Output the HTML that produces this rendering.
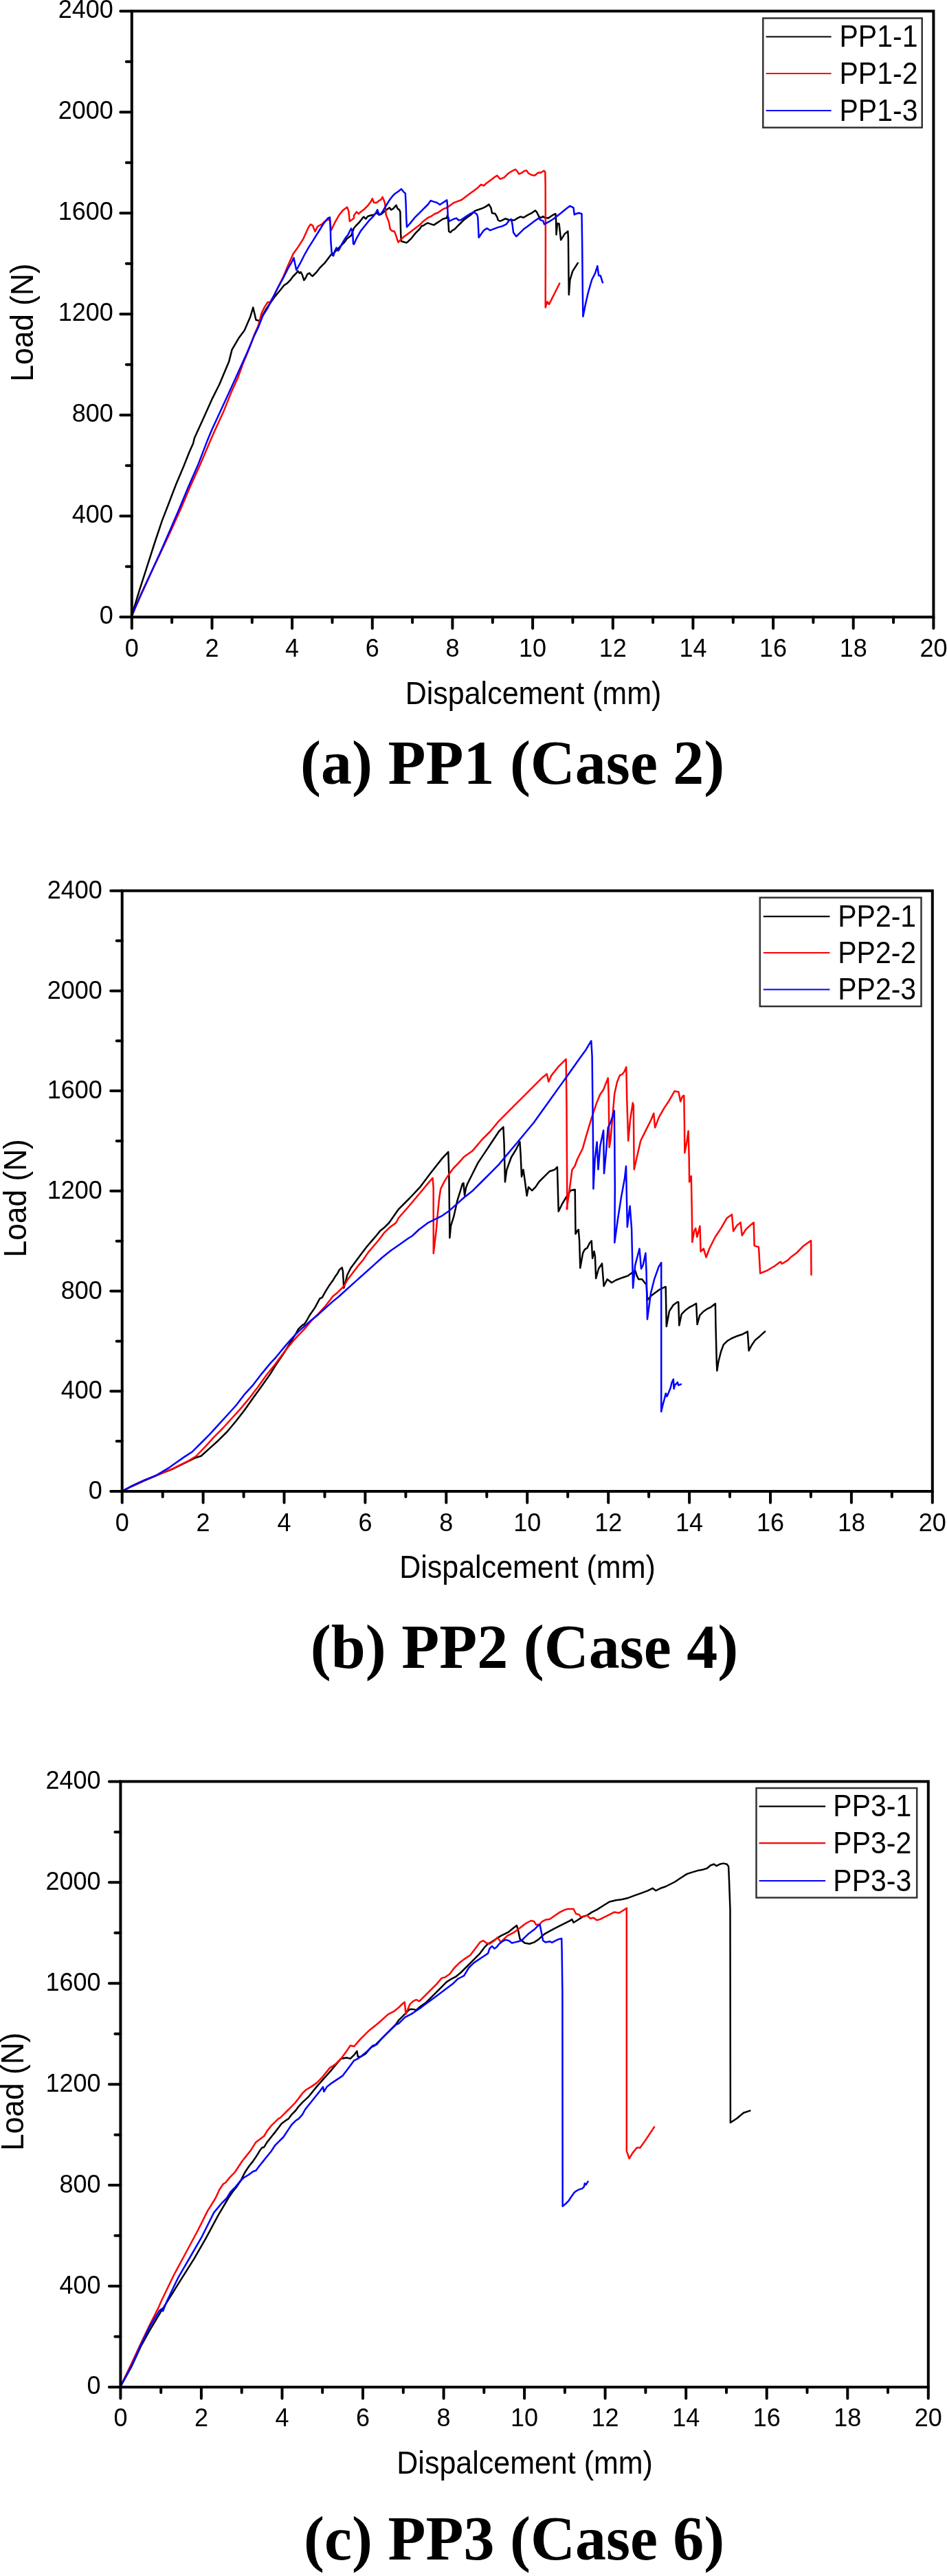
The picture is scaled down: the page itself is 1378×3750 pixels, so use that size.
<!DOCTYPE html>
<html><head><meta charset="utf-8"><title>Load-displacement curves</title>
<style>html,body{margin:0;padding:0;background:#fff}svg{display:block;will-change:transform}</style></head>
<body><svg width="1378" height="3750" viewBox="0 0 1378 3750">
<rect width="1378" height="3750" fill="#fff"/>
<g fill="none" stroke-width="2.5" stroke-linejoin="round" stroke-linecap="round">
<polyline stroke="#000000" points="191.9,895.3 202.8,859.6 213.8,825.3 224.8,791 235.8,758.1 245.4,733.3 256.4,704.5 267.4,678.4 275.6,657.8 281.1,645.5 282.9,637.8 296.9,607 308.1,581.9 319.3,559.5 333.3,525.9 337.5,509.1 347.3,492.3 355.7,481.1 364.1,461.6 368.3,447.6 372.5,465.8 378.1,467.2 380.9,461.1 386.8,450.8 392.7,441.9 400.1,431.6 407.5,422.7 413.4,415.3 417.9,412.4 422.3,407.9 426.7,402 431.2,397.6 433.4,394.6 435.6,397.6 437.8,396.1 440,400.5 442.3,407.9 444.5,405 447.4,399 450.4,397.6 452.6,400.5 454.8,402 457.8,399 460.7,396.1 465.2,390.2 469.6,385.7 472.6,382.8 477,376.9 481.4,371 485.9,368 490.3,363.6 494.7,359.1 500.7,353.2 505.1,347.3 511,342.9 515,332 518.9,327.6 523.3,323.1 527.7,317.2 529.2,315.7 532.2,318.7 535.1,315 539.6,313.5 544,312.8 548.4,309.8 551.4,312.8 554.4,312 558.8,308.4 563.2,304.7 566.9,302.4 569.1,305.4 572.1,303.9 576.5,298.7 578.7,303.9 581,305.4 582.4,308.4 583.2,340.9 583.9,351.2 586.9,352 591.3,353.4 594.3,351.2 598.7,346.8 604.6,339.4 610.5,333.5 613.5,329 616.4,328.3 619.4,326.1 622.4,324.6 626.8,326.1 631.2,327.6 635.7,324.6 640.1,321.7 644.5,318.7 650,317.2 650.9,313.9 651.7,314.6 652.4,323.5 653.1,336.8 655.3,338.3 658.3,335.3 661.3,333.8 665.7,329.4 670.1,325 674.6,320.5 680.5,316.1 686.4,311.7 690.8,307.2 696.7,305 702.7,302.8 707.1,300.6 711.5,297.6 714.5,302.8 716,310.2 720.4,310.9 723.4,316.1 724.8,320.5 727.8,322 732.2,319.8 735.2,318.3 739.6,319.8 744,320.5 748.5,320.5 752.9,317.6 757.4,315.4 761.8,316.8 767.7,313.1 773.6,310.2 778.8,306.5 781,308.7 784,314.6 785,317.6 785.7,316.3 787.6,316.9 790.1,315 792.7,316.9 797.7,317.6 801.5,315 805.3,312.5 808.5,311.2 809.1,321.4 809.5,341.6 811,325.2 813.6,325.8 816.1,349.3 821.8,340.4 826.3,336.6 826.9,346.7 827.4,397.4 827.8,429.1 829.4,407.5 833.2,394.9 840.8,382.8"/>
<polyline stroke="#ff0000" points="191.9,897 205,865 219,835 233.5,805 248.5,773 262.5,742 276.5,709 291,677 306.3,641 313.7,624.3 325.1,599.6 336.5,571.1 346,550.2 353.6,529.3 363.1,506.4 370.7,485.5 375.5,475.1 380.9,455.2 385.3,446.4 389.8,439.7 392.7,440.4 398.7,430.1 404.6,418.3 412,403.5 419.4,385.7 426.7,369.5 434.1,359.1 441.5,347.3 448.9,331 451.9,326.6 454.8,328.1 458.5,337 462.2,329.6 465.2,328.1 468.1,326.6 472.6,322.2 475.5,320.7 478.5,319.2 480.3,322.2 481.7,335.5 487.4,323.7 493.3,313.3 499.2,305.9 505.1,301.5 507.3,307.4 508.8,322.2 515,317.7 515,313.5 518.9,308.4 521.8,311.3 524.8,308.4 530.7,303.9 535.1,299.5 539.6,293.6 541.8,289.1 544,295 548.4,295 551.4,292.1 554.4,290.6 556.6,286.9 558.8,292.1 560.3,296.5 561.7,312.8 564.7,320.2 566.2,324.6 567.7,333.5 570.6,336.4 573.6,336.4 575,339.4 578,348.3 579.5,352.7 582.4,349.7 586.9,345.3 592.8,340.9 598.7,336.4 604.6,332 610.5,327.6 616.4,321.7 622.4,317.2 628.3,314.3 632.7,311.3 637.1,309.8 643.1,305.4 646,303.9 650,302.4 650.9,302 653.9,299.8 659.8,295.4 665.7,293.2 671.6,291 677.5,286.5 683.4,282.1 689.4,277.7 695.3,273.2 699.7,268.8 704.1,270.3 707.1,267.3 713,262.9 718.9,258.4 723.4,255.5 727.8,260.7 733.7,258.4 739.6,252.5 745.5,248.8 750,246.6 752.9,249.6 755.1,253.3 758.8,251.8 763.3,248.8 766.2,248.1 769.2,252.5 773.6,254.7 778.1,255.5 782.5,251.8 785,251 785.7,251.7 787.6,251 791.4,248.5 793.3,250.4 793.7,270.7 793.9,346.7 793.7,447.5 796.5,439.2 799,443 802.8,435.4 807.9,425.3 814.2,412.6"/>
<polyline stroke="#0000ff" points="191.9,895.3 205.6,865.1 219.3,834.9 233,804.7 246.8,773.2 260.5,741.6 274.2,708.6 288,677.1 301.7,641.4 308,626.2 319.4,601.5 330.8,576.8 340.3,555.9 349.8,535 359.3,514 368.8,491.2 376.4,475.1 382.4,459.7 389.8,447.8 397.2,433.1 404.6,418.3 412,405 419.4,390.2 423.8,382.8 427.5,375.4 429,382.8 431.2,393.1 437.1,382.8 443,371 448.9,360.6 456.3,348.8 463.7,337 471.1,325.1 477,317.7 480,316.3 480.7,329.6 481.4,351.7 482.9,371 485.1,372.4 487.4,365 489.6,360.6 491.8,365 493.3,363.6 497.7,354.7 502.1,347.3 506.6,341.4 511,332.5 513.2,338.4 514,354.7 515,355.7 518.9,346.8 524.8,336.4 530.7,329 536.6,321.7 542.5,315.7 547,309.8 549.2,305.4 551.4,312 554.4,311.3 557.3,306.9 561.7,299.5 566.2,292.1 570.6,286.2 575,281.7 579.5,278.8 583.9,275.1 586.9,278.8 589.8,281.7 590.6,296.5 591.3,318.7 592,330.5 597.2,324.6 603.1,317.2 610.5,309.8 616.4,303.9 622.4,298 626.8,292.1 631.2,293.6 635.7,295 640.1,298 644.5,295 649,292.1 650,291.4 650.3,291.3 650.9,296.9 651.7,314.6 653.9,322 656.8,320.5 659.8,319 664.2,317.6 667.2,320.5 670.1,320.5 674.6,317.6 679,314.6 683.4,311.7 689.4,308.7 693.8,311.7 695.3,316.1 696,330.9 696.7,345.7 699.7,341.2 704.1,335.3 708.6,332.4 713,335.3 718.9,333.1 724.8,330.9 730.7,329.4 736.7,326.4 741.1,320.5 744,319 745.5,326.4 747,338.3 750,342.7 751.4,344.2 755.9,339.7 761.8,333.8 767.7,329.4 773.6,325 779.5,320.5 784,317.6 785,316.8 785.7,320.1 790.1,321.4 792,326.4 799,322.6 805.3,318.8 811.7,313.8 818,308.7 824.4,303.6 829.4,299.8 834.5,302.4 835.8,312.5 838.3,311.2 842.1,310 846.5,311.2 847.2,359.4 847.8,422.7 848.4,460.8 852.2,441.8 856,425.3 861.1,407.5 866.2,397.4 869.3,387.3 871.2,401.2 873.8,401.2 876.9,411.3"/>
</g>
<rect x="191.8" y="16.2" width="1166.6" height="882.1" fill="none" stroke="#000" stroke-width="4"/>
<path d="M191.8 898.3V914.8M250.1 898.3V906.3M308.5 898.3V914.8M366.8 898.3V906.3M425.1 898.3V914.8M483.5 898.3V906.3M541.8 898.3V914.8M600.1 898.3V906.3M658.4 898.3V914.8M716.8 898.3V906.3M775.1 898.3V914.8M833.4 898.3V906.3M891.8 898.3V914.8M950.1 898.3V906.3M1008.4 898.3V914.8M1066.8 898.3V906.3M1125.1 898.3V914.8M1183.4 898.3V906.3M1241.7 898.3V914.8M1300.1 898.3V906.3M1358.4 898.3V914.8M191.8 898.3H175.3M191.8 824.8H183.8M191.8 751.3H175.3M191.8 677.8H183.8M191.8 604.3H175.3M191.8 530.8H183.8M191.8 457.2H175.3M191.8 383.7H183.8M191.8 310.2H175.3M191.8 236.7H183.8M191.8 163.2H175.3M191.8 89.7H183.8M191.8 16.2H175.3" stroke="#000" stroke-width="4" stroke-linecap="round" fill="none"/>
<g font-family="Liberation Sans, Arial, sans-serif" font-size="36" fill="#000">
<text x="191.8" y="955.5" text-anchor="middle">0</text>
<text x="308.5" y="955.5" text-anchor="middle">2</text>
<text x="425.1" y="955.5" text-anchor="middle">4</text>
<text x="541.8" y="955.5" text-anchor="middle">6</text>
<text x="658.4" y="955.5" text-anchor="middle">8</text>
<text x="775.1" y="955.5" text-anchor="middle">10</text>
<text x="891.8" y="955.5" text-anchor="middle">12</text>
<text x="1008.4" y="955.5" text-anchor="middle">14</text>
<text x="1125.1" y="955.5" text-anchor="middle">16</text>
<text x="1241.7" y="955.5" text-anchor="middle">18</text>
<text x="1358.4" y="955.5" text-anchor="middle">20</text>
<text x="164.9" y="907.9" text-anchor="end">0</text>
<text x="164.9" y="760.9" text-anchor="end">400</text>
<text x="164.9" y="613.9" text-anchor="end">800</text>
<text x="164.9" y="466.8" text-anchor="end">1200</text>
<text x="164.9" y="319.8" text-anchor="end">1600</text>
<text x="164.9" y="172.8" text-anchor="end">2000</text>
<text x="164.9" y="25.8" text-anchor="end">2400</text>
</g>
<text font-family="Liberation Sans, Arial, sans-serif" font-size="44.3" transform="translate(48 555.7) rotate(-90) scale(1 1.06)">Load (N)</text>
<text font-family="Liberation Sans, Arial, sans-serif" font-size="43" transform="translate(589.7 1025.2) scale(1 1.07)">Dispalcement (mm)</text>
<rect x="1110.3" y="26.5" width="231.4" height="159.2" fill="#fff" stroke="#333" stroke-width="2.5"/>
<line x1="1114.6" y1="53.5" x2="1209.6" y2="53.5" stroke="#000000" stroke-width="2.2"/>
<text font-family="Liberation Sans, Arial, sans-serif" font-size="41" transform="translate(1221.5 68.1) scale(1 1.09)">PP1-1</text>
<line x1="1114.6" y1="107" x2="1209.6" y2="107" stroke="#ff0000" stroke-width="2.2"/>
<text font-family="Liberation Sans, Arial, sans-serif" font-size="41" transform="translate(1221.5 121.6) scale(1 1.09)">PP1-2</text>
<line x1="1114.6" y1="161" x2="1209.6" y2="161" stroke="#0000ff" stroke-width="2.2"/>
<text font-family="Liberation Sans, Arial, sans-serif" font-size="41" transform="translate(1221.5 175.6) scale(1 1.09)">PP1-3</text>
<text font-family="Liberation Serif, Times New Roman, serif" font-weight="bold" font-size="90" x="437" y="1141.3">(a) PP1 (Case 2)</text>
<g fill="none" stroke-width="2.5" stroke-linejoin="round" stroke-linecap="round">
<polyline stroke="#000000" points="177.7,2171 192.4,2163.5 209.8,2155.5 227.3,2148 238.9,2143.4 250.5,2138.8 262.1,2133.2 273.7,2127.5 285,2122 292.7,2119.5 305.3,2108.1 318,2096.7 330.7,2084 343.4,2068.8 356,2052.4 368.7,2034.6 381.4,2016.9 394,1999.1 400,1989 412.9,1970 430.6,1941.4 434.3,1934.7 440.3,1928.8 442.2,1928.2 445.4,1924 450.7,1914.5 458.1,1903.9 465.5,1890.2 468.6,1889.1 473.9,1879.6 479.2,1871.2 484.5,1863.8 487.6,1858.6 490.8,1854.3 493.9,1848.4 497.7,1845.3 499,1851 500.3,1875 502.8,1866.2 505.3,1856 510.4,1845.9 518,1835.8 525.6,1825.6 533.2,1815.5 540.8,1806.6 548.4,1797.7 553.5,1791.4 558.6,1787.6 566.2,1780 580,1760.3 595.8,1744.5 611.7,1727.6 627.5,1706.5 643.4,1686.4 652.3,1676.9 653.4,1712.8 654.4,1801.9 656,1784.6 660.3,1770.9 665.5,1747.6 669.8,1733.9 672.9,1723.4 674.5,1722.3 676.1,1740.3 678.2,1728.6 680.4,1723 688,1707.8 695.6,1692.6 705.8,1677.4 715.9,1662.2 726,1647 732.4,1640.6 733.6,1664.7 734.9,1720.5 737.4,1702.7 743.8,1685 751.4,1672.3 756.4,1662.2 757.7,1682.5 759,1712.9 761.5,1702.7 764,1720.5 766.6,1740.7 769.1,1728.1 774.2,1733.1 779.2,1728.1 784.3,1720.5 791.9,1712.9 799.5,1705.3 807.1,1702.7 810.9,1698.9 812.7,1763.4 817.7,1753.2 825.3,1740.5 830.4,1733 836.7,1731.7 837.5,1796.3 840.5,1791.2 841.8,1790 843.1,1806.4 844.3,1845.7 848.1,1824.2 850.7,1819.1 854.5,1816.6 858.3,1809 860.8,1806.4 862.1,1831.8 864.6,1821.6 865.9,1829.2 867.2,1860.9 871,1847 876,1839.4 878.6,1872.3 883.6,1862.2 890,1867.3 896.3,1863.5 906.4,1859.7 914,1857.1 919.1,1853.3 924.2,1849.5 926.7,1857.1 929.2,1862.2 934.3,1862.2 938.1,1867.3 940.6,1869.8 941.9,1892.6 947.3,1886.5 953.2,1882.1 959.1,1877.7 965,1874.7 968.7,1873.2 969.8,1930.9 973.9,1908.7 979.8,1899.8 985.7,1895.4 987.2,1895.4 988.3,1929.4 991.7,1913.1 997.6,1907.2 1003.5,1902.8 1009.4,1899.8 1013.1,1897.6 1014.6,1927.9 1018.3,1914.6 1024.2,1908.7 1028.6,1905.7 1034.5,1902.8 1040.9,1897.8 1041.5,1932 1042.8,1982.7 1043.4,1995.4 1045.3,1982.7 1049.1,1967.5 1052.9,1957.4 1058,1952.3 1064.3,1948.5 1073.2,1944.7 1080.8,1942.2 1087.8,1938.4 1089.7,1966.3 1093.5,1958.7 1098.6,1951.1 1106.2,1944.7 1113.1,1938.4"/>
<polyline stroke="#ff0000" points="177.7,2171 192.4,2163 209.8,2155 227.3,2147.8 238.9,2143.2 250.5,2138.5 262.1,2132.7 273.7,2126.9 285.1,2120 299,2105.6 311.7,2091.6 324.3,2079 337,2065 349.7,2051.1 362.4,2035.9 375,2019.4 387.7,2001.7 400,1986.5 412.2,1970 419.6,1960.6 427,1951.7 434.3,1943.6 442.2,1935.6 452.8,1922.9 463.4,1912.4 473.9,1900.8 484.5,1887 490.1,1882.6 500.3,1872.5 505.3,1863.6 512.9,1853.5 520.5,1843.4 528.1,1834.5 535.8,1823.1 543.4,1814.2 551,1805.3 558.6,1795.2 566.2,1787.6 576.3,1780 580,1773 595.8,1755 611.7,1736 622.2,1723.4 629.6,1714.9 630.7,1728.6 630.8,1824.7 634.9,1790 637,1765.6 639.1,1744.5 641.2,1730.8 647.6,1718.1 653.9,1708.6 660.3,1700.1 667.6,1692.7 675,1684.3 688,1674.9 700.7,1659.7 713.4,1647 726,1631.8 738.7,1619.1 751.4,1606.4 764,1593.8 776.7,1581.1 789.4,1568.4 795.7,1563.4 798.3,1574.8 802.1,1565.9 812.2,1553.2 823.6,1541.8 824.4,1601.4 825.4,1760 824.6,1759.6 827.9,1738 832.5,1702.7 836.3,1697.7 840.1,1687.5 847.7,1672.3 852.7,1654.6 860.3,1629.2 867.9,1606.4 873,1593.8 878.1,1586.2 884.7,1569.4 885.7,1596 886.6,1670.2 888.5,1658.8 891.4,1624.5 894.2,1592.2 898,1575.1 901.8,1565.6 905.6,1563.7 908.5,1559.9 911.3,1553.3 912.3,1601.7 914.2,1660.7 917,1630.2 920.8,1605.5 921.8,1609.3 922.7,1702.5 926.5,1685.4 932.2,1660.7 939.8,1645.4 947.4,1630.2 951.2,1620.7 953.1,1641.6 958.8,1626.4 966.4,1613.1 974,1601.7 981.6,1588.4 987.4,1589.4 990.2,1603.6 993,1596 995.3,1594.8 995.9,1633.9 996.3,1678.3 999.5,1661.4 1001.6,1646.6 1002.7,1686.7 1003.1,1720.5 1005.8,1712.1 1006.9,1771.2 1007.3,1808.2 1010.1,1792.3 1012.2,1788.1 1014.3,1800.8 1018.5,1784.9 1019.6,1821.9 1023.8,1817.7 1027.6,1830.3 1032.2,1817.7 1040.7,1800.8 1049.1,1788.1 1057.6,1773.3 1065,1768 1067.1,1792.3 1072.4,1783.9 1077.6,1779.6 1079.8,1798.6 1085,1790.2 1091.4,1783.9 1096.7,1779.6 1097.7,1813.4 1104,1815.5 1106.2,1853.6 1116.7,1849.3 1127.3,1843 1135.7,1836.7 1137.8,1839.8 1146.3,1834.6 1150.5,1830.3 1159,1824 1169.5,1813.4 1180.1,1806 1180.5,1855.7"/>
<polyline stroke="#0000ff" points="177.7,2170.5 192.4,2162.9 209.8,2154.8 227.3,2147.8 244.7,2137.4 256.3,2129.2 267.9,2121.1 280,2113.2 292.7,2100.5 305.3,2087.8 318,2073.9 330.7,2060 343.4,2046 356,2029.6 368.7,2015.6 381.4,1999.1 394,1983.9 400,1977.6 406.3,1970 415.9,1958.4 427,1945.8 434.3,1938.4 442.2,1931.4 452.8,1921.9 463.4,1913.4 473.9,1903.9 484.5,1894.4 492.7,1887.7 505.3,1876.3 518,1864.9 530.7,1853.5 543.4,1842.1 556,1830.7 568.7,1820.5 581.4,1811.7 594,1802.8 600,1799 609.6,1790 622.2,1780.4 632.8,1775.1 643.4,1769.8 653.9,1762.4 664.5,1752.9 675.3,1743.3 688,1733.2 700.7,1720.5 713.4,1707.8 726,1695.1 738.7,1679.9 751.4,1664.7 764,1649.5 776.7,1634.3 789.4,1616.6 802.1,1598.8 814.7,1581.1 827.4,1563.4 840.1,1545.6 852.7,1527.9 860.3,1515.2 861.6,1538 862.9,1652.1 863.4,1730.6 865.7,1687.3 868.6,1662.6 870.5,1702.5 873.3,1668.3 878.1,1645.4 879,1708.2 881.9,1677.8 884.7,1641.6 888.5,1634 893.8,1616.9 894.2,1653 894.8,1729 894.3,1809 898.8,1776 903.9,1743.1 909,1715.2 911,1697.7 912.8,1786.2 916.6,1755.8 919.1,1788.7 921.1,1874.9 924.2,1841.9 930.5,1817.8 933,1847 935.6,1841.9 939.4,1824.2 940.6,1852.1 941.9,1920.5 947,1882.5 952.1,1862.2 958.4,1844.5 962.2,1838.1 962.2,2055 964.4,2045.4 966.6,2037.3 968.8,2028.4 970.3,2032.9 972.5,2028.4 975.5,2021 977.7,2012.2 979.9,2007.7 980.6,2021.8 982.1,2015.9 984.3,2014.4 985.8,2012.2 987.3,2016.6 991,2015.1"/>
</g>
<rect x="177.7" y="1296.7" width="1179.1" height="874.3" fill="none" stroke="#000" stroke-width="4"/>
<path d="M177.7 2171V2187.5M236.7 2171V2179M295.6 2171V2187.5M354.6 2171V2179M413.5 2171V2187.5M472.5 2171V2179M531.4 2171V2187.5M590.4 2171V2179M649.3 2171V2187.5M708.3 2171V2179M767.2 2171V2187.5M826.2 2171V2179M885.2 2171V2187.5M944.1 2171V2179M1003.1 2171V2187.5M1062 2171V2179M1121 2171V2187.5M1179.9 2171V2179M1238.9 2171V2187.5M1297.8 2171V2179M1356.8 2171V2187.5M177.7 2171H161.2M177.7 2098.1H169.7M177.7 2025.3H161.2M177.7 1952.4H169.7M177.7 1879.6H161.2M177.7 1806.7H169.7M177.7 1733.8H161.2M177.7 1661H169.7M177.7 1588.1H161.2M177.7 1515.3H169.7M177.7 1442.4H161.2M177.7 1369.6H169.7M177.7 1296.7H161.2" stroke="#000" stroke-width="4" stroke-linecap="round" fill="none"/>
<g font-family="Liberation Sans, Arial, sans-serif" font-size="36" fill="#000">
<text x="177.7" y="2228.8" text-anchor="middle">0</text>
<text x="295.6" y="2228.8" text-anchor="middle">2</text>
<text x="413.5" y="2228.8" text-anchor="middle">4</text>
<text x="531.4" y="2228.8" text-anchor="middle">6</text>
<text x="649.3" y="2228.8" text-anchor="middle">8</text>
<text x="767.2" y="2228.8" text-anchor="middle">10</text>
<text x="885.2" y="2228.8" text-anchor="middle">12</text>
<text x="1003.1" y="2228.8" text-anchor="middle">14</text>
<text x="1121" y="2228.8" text-anchor="middle">16</text>
<text x="1238.9" y="2228.8" text-anchor="middle">18</text>
<text x="1356.8" y="2228.8" text-anchor="middle">20</text>
<text x="148.8" y="2182.1" text-anchor="end">0</text>
<text x="148.8" y="2036.4" text-anchor="end">400</text>
<text x="148.8" y="1890.7" text-anchor="end">800</text>
<text x="148.8" y="1744.9" text-anchor="end">1200</text>
<text x="148.8" y="1599.2" text-anchor="end">1600</text>
<text x="148.8" y="1453.5" text-anchor="end">2000</text>
<text x="148.8" y="1307.8" text-anchor="end">2400</text>
</g>
<text font-family="Liberation Sans, Arial, sans-serif" font-size="44.3" transform="translate(38 1830.4) rotate(-90) scale(1 1.06)">Load (N)</text>
<text font-family="Liberation Sans, Arial, sans-serif" font-size="43" transform="translate(581.2 2297.1) scale(1 1.07)">Dispalcement (mm)</text>
<rect x="1105.8" y="1306.7" width="234.7" height="158.3" fill="#fff" stroke="#333" stroke-width="2.5"/>
<line x1="1110.8" y1="1334.1" x2="1207.4" y2="1334.1" stroke="#000000" stroke-width="2.2"/>
<text font-family="Liberation Sans, Arial, sans-serif" font-size="41" transform="translate(1219.2 1348.7) scale(1 1.09)">PP2-1</text>
<line x1="1110.8" y1="1387" x2="1207.4" y2="1387" stroke="#ff0000" stroke-width="2.2"/>
<text font-family="Liberation Sans, Arial, sans-serif" font-size="41" transform="translate(1219.2 1401.6) scale(1 1.09)">PP2-2</text>
<line x1="1110.8" y1="1440.5" x2="1207.4" y2="1440.5" stroke="#0000ff" stroke-width="2.2"/>
<text font-family="Liberation Sans, Arial, sans-serif" font-size="41" transform="translate(1219.2 1455.1) scale(1 1.09)">PP2-3</text>
<text font-family="Liberation Serif, Times New Roman, serif" font-weight="bold" font-size="90" x="451.8" y="2427.6">(b) PP2 (Case 4)</text>
<g fill="none" stroke-width="2.5" stroke-linejoin="round" stroke-linecap="round">
<polyline stroke="#000000" points="175.3,3474.1 191.1,3445.6 204.8,3416 217.5,3392.8 233.4,3366.4 264.8,3316.2 282.3,3288.3 299.7,3258.1 317.1,3225.6 332.2,3200 338.4,3190.8 344.4,3183.4 350.3,3174.5 356.2,3162.7 362.1,3153.8 368,3146.4 373.9,3137.6 378.4,3130.2 381.3,3126.5 384.3,3125.7 388.7,3118.4 394.6,3111 400.5,3103.6 405,3097.7 409.4,3091.7 415.3,3087.3 419.7,3084.4 424.2,3078.4 430.1,3072.5 434.5,3066.6 440,3060.7 449.4,3051.8 460.4,3038.1 471.4,3025.7 482.4,3013.3 496.1,2996.9 504.3,2995.5 509.8,2996.9 515.3,2991.4 519.4,2985.9 520.8,2994.1 524.9,2994.1 531.8,2990 540,2980.4 545.5,2977.7 553.7,2969.4 564.7,2958.4 575.7,2947.5 580,2941.2 589.3,2931.9 596.3,2924.9 600.9,2924.9 605.6,2926.1 612.5,2920.3 619.5,2915.6 626.5,2908.7 635.8,2899.4 645,2890.1 649.7,2885.4 656.7,2880.8 663.6,2877.3 670.6,2871.5 677.6,2864.5 684.5,2857.6 691.5,2850.6 698.5,2843.6 705.4,2834.3 710.1,2829.7 714.7,2827.4 721.7,2822.7 728.7,2818.1 733.3,2815.8 740.3,2812.3 747.3,2806.5 751.9,2803 754.2,2811.1 756.6,2822.7 763.5,2828.5 770.5,2829.7 777.5,2827.4 784.4,2822.7 789.1,2818.1 793.7,2814.6 800,2811.1 807.9,2806.9 814.8,2803.4 821.8,2799.9 828.8,2796.4 832.3,2794.1 834.6,2798.7 840.4,2795.2 847.4,2790.6 854.3,2788.3 861.3,2783.6 868.3,2780.1 877.6,2774.3 886.9,2768.5 896.2,2766.2 905.4,2765 914.7,2762.7 924,2759.2 933.3,2755.8 942.6,2752.3 949.6,2748.8 954.2,2752.3 961.2,2748.8 968.2,2746.5 975.1,2743 982.1,2739.5 989.1,2734.8 996.1,2730.2 1000,2727.9 1006.9,2725.6 1015.3,2723.1 1023.8,2721.4 1028.9,2719.7 1033.9,2715.5 1039,2713.8 1042.4,2716.3 1047.4,2713.8 1052.5,2712.6 1057.6,2713.8 1060.1,2717.1 1061,2738.3 1062.5,2780 1062.9,3090 1072.4,3083.7 1081.9,3075.8 1091.4,3072.6"/>
<polyline stroke="#ff0000" points="175.3,3474.1 191.1,3441.4 204.8,3411.8 217.5,3385.4 231.2,3358 234.6,3350 253.2,3311.5 270.7,3279 288.1,3246.5 302,3218.6 313.6,3200 319.2,3187.8 325.1,3179 328.1,3177.5 334,3170.1 341.4,3162.7 347.3,3153.8 353.2,3145 359.1,3137.6 365,3130.2 372.4,3118.4 378.4,3113.9 384.3,3109.5 388.7,3102.1 394.6,3094.7 400.5,3088.8 405,3084.4 407.9,3082.9 412.4,3078.4 416.8,3074 422.7,3068.1 428.6,3062.2 434.5,3054.8 440,3047.4 445.3,3042.2 452.2,3038.1 460.4,3032.6 468.6,3024.3 479.6,3010.6 487.9,3005.1 496.1,2996.9 504.3,2985.9 509.8,2977.7 515.3,2979 523.5,2969.4 537.3,2955.7 551,2944.7 564.7,2932.4 573,2928.2 580,2922.6 584.6,2918 588.8,2914.5 590.5,2931.9 596.3,2918 600.9,2913.3 605.6,2911 610.2,2913.3 617.2,2906.4 626.5,2897.1 635.8,2887.8 642.7,2879.6 647.4,2878.5 654.3,2873.8 661.3,2864.5 668.3,2857.6 677.6,2850.6 684.5,2846 691.5,2836.7 698.5,2827.4 703.1,2825 707.8,2828.5 712.4,2829.7 719.4,2825 724,2820.4 728.7,2827.4 731,2825 738,2818.1 747.3,2813.4 756.6,2806.5 765.9,2799.5 772.8,2796 777.5,2797.2 779.8,2801.8 784.4,2801.8 789.1,2797.2 793.7,2794.8 800,2793.7 807.9,2788.3 814.8,2783.6 821.8,2780.1 826.5,2779 834.6,2779 838.1,2786 842.7,2787.1 845,2790.6 849.7,2789.4 854.3,2788.3 859,2792.9 863.6,2791.8 868.3,2795.2 872.9,2794.1 879.9,2790.6 886.9,2787.1 893.8,2783.6 900.8,2784.8 906.6,2781.3 912,2777.8 911.8,2780 911.8,3131.2 915.6,3142.3 920.4,3134.4 926.7,3126.5 931.5,3126.5 939.4,3115.4 952,3096.4"/>
<polyline stroke="#0000ff" points="175.3,3474.1 191.1,3444.5 204.8,3413.9 217.5,3387.5 232.3,3363.2 235.5,3361.1 237.1,3364.3 242.8,3350 259,3316.2 276.5,3286 293.9,3255.8 311.3,3220.9 322.9,3207 329.9,3200 335.5,3190.8 342.9,3183.4 348.8,3176 354.7,3170.1 362.1,3165.7 368,3161.2 372.4,3159.7 376.9,3153.8 382.8,3146.4 388.7,3139 394.6,3131.7 400.5,3122.8 406.4,3116.9 412.4,3111 418.3,3102.1 424.2,3093.2 430.1,3087.3 434.5,3084.4 440,3078.4 443.9,3071 454.9,3057.3 465.9,3043.5 470,3038.1 471.4,3044.9 475.5,3038.1 482.4,3032.6 490.6,3027.1 498.8,3021.6 507.1,3010.6 515.3,2999.6 520.8,2996.9 526.3,2992.8 534.5,2985.9 542.8,2977.7 548.3,2976.3 553.7,2969.4 564.7,2958.4 575.7,2947.5 580,2945.9 589.3,2936.6 598.6,2931.9 605.6,2927.3 612.5,2922.6 621.8,2915.6 631.1,2908.7 640.4,2901.7 649.7,2894.7 659,2887.8 666,2880.8 670.6,2878.5 675.2,2876.2 682.2,2864.5 689.2,2857.6 696.2,2852.9 703.1,2848.3 710.1,2843.6 712.4,2836.7 715.9,2833.2 719.4,2836.7 722.9,2834.3 726.4,2829.7 731,2826.2 735.6,2823.9 740.3,2825 744.9,2828.5 749.6,2827.4 754.2,2826.2 758.9,2825 763.5,2820.4 768.2,2815.8 772.8,2812.3 777.5,2808.8 782.1,2804.1 785.6,2801.8 787.9,2813.4 790.2,2825 793.7,2827.4 800,2826.2 803.2,2827.8 807.9,2825.4 812.5,2823.1 817.2,2822 817.6,2839.4 818.4,2900 818.7,3211.8 823.3,3208 827.1,3204.2 830.9,3198.5 835.6,3191.8 839.4,3189 843.2,3187.1 847,3186.1 849.9,3183.3 850.8,3178.5 852.7,3180.4 855.6,3175.7"/>
</g>
<rect x="175.4" y="2593.4" width="1175.4" height="881.6" fill="none" stroke="#000" stroke-width="4"/>
<path d="M175.4 3475V3491.5M234.2 3475V3483M292.9 3475V3491.5M351.7 3475V3483M410.5 3475V3491.5M469.2 3475V3483M528 3475V3491.5M586.8 3475V3483M645.6 3475V3491.5M704.3 3475V3483M763.1 3475V3491.5M821.9 3475V3483M880.6 3475V3491.5M939.4 3475V3483M998.2 3475V3491.5M1057 3475V3483M1115.7 3475V3491.5M1174.5 3475V3483M1233.3 3475V3491.5M1292 3475V3483M1350.8 3475V3491.5M175.4 3475H158.9M175.4 3401.5H167.4M175.4 3328.1H158.9M175.4 3254.6H167.4M175.4 3181.1H158.9M175.4 3107.7H167.4M175.4 3034.2H158.9M175.4 2960.7H167.4M175.4 2887.3H158.9M175.4 2813.8H167.4M175.4 2740.3H158.9M175.4 2666.9H167.4M175.4 2593.4H158.9" stroke="#000" stroke-width="4" stroke-linecap="round" fill="none"/>
<g font-family="Liberation Sans, Arial, sans-serif" font-size="36" fill="#000">
<text x="175.4" y="3532" text-anchor="middle">0</text>
<text x="292.9" y="3532" text-anchor="middle">2</text>
<text x="410.5" y="3532" text-anchor="middle">4</text>
<text x="528" y="3532" text-anchor="middle">6</text>
<text x="645.6" y="3532" text-anchor="middle">8</text>
<text x="763.1" y="3532" text-anchor="middle">10</text>
<text x="880.6" y="3532" text-anchor="middle">12</text>
<text x="998.2" y="3532" text-anchor="middle">14</text>
<text x="1115.7" y="3532" text-anchor="middle">16</text>
<text x="1233.3" y="3532" text-anchor="middle">18</text>
<text x="1350.8" y="3532" text-anchor="middle">20</text>
<text x="146.5" y="3485.4" text-anchor="end">0</text>
<text x="146.5" y="3338.5" text-anchor="end">400</text>
<text x="146.5" y="3191.5" text-anchor="end">800</text>
<text x="146.5" y="3044.6" text-anchor="end">1200</text>
<text x="146.5" y="2897.7" text-anchor="end">1600</text>
<text x="146.5" y="2750.7" text-anchor="end">2000</text>
<text x="146.5" y="2603.8" text-anchor="end">2400</text>
</g>
<text font-family="Liberation Sans, Arial, sans-serif" font-size="44.3" transform="translate(33.8 3130.9) rotate(-90) scale(1 1.06)">Load (N)</text>
<text font-family="Liberation Sans, Arial, sans-serif" font-size="43" transform="translate(577.3 3601.2) scale(1 1.07)">Dispalcement (mm)</text>
<rect x="1100.5" y="2603" width="233.7" height="159.5" fill="#fff" stroke="#333" stroke-width="2.5"/>
<line x1="1104.5" y1="2629.7" x2="1201.1" y2="2629.7" stroke="#000000" stroke-width="2.2"/>
<text font-family="Liberation Sans, Arial, sans-serif" font-size="41" transform="translate(1212.3 2644.3) scale(1 1.09)">PP3-1</text>
<line x1="1104.5" y1="2683.2" x2="1201.1" y2="2683.2" stroke="#ff0000" stroke-width="2.2"/>
<text font-family="Liberation Sans, Arial, sans-serif" font-size="41" transform="translate(1212.3 2697.8) scale(1 1.09)">PP3-2</text>
<line x1="1104.5" y1="2738" x2="1201.1" y2="2738" stroke="#0000ff" stroke-width="2.2"/>
<text font-family="Liberation Sans, Arial, sans-serif" font-size="41" transform="translate(1212.3 2752.6) scale(1 1.09)">PP3-3</text>
<text font-family="Liberation Serif, Times New Roman, serif" font-weight="bold" font-size="90" x="442.1" y="3726.4">(c) PP3 (Case 6)</text>
</svg></body></html>
